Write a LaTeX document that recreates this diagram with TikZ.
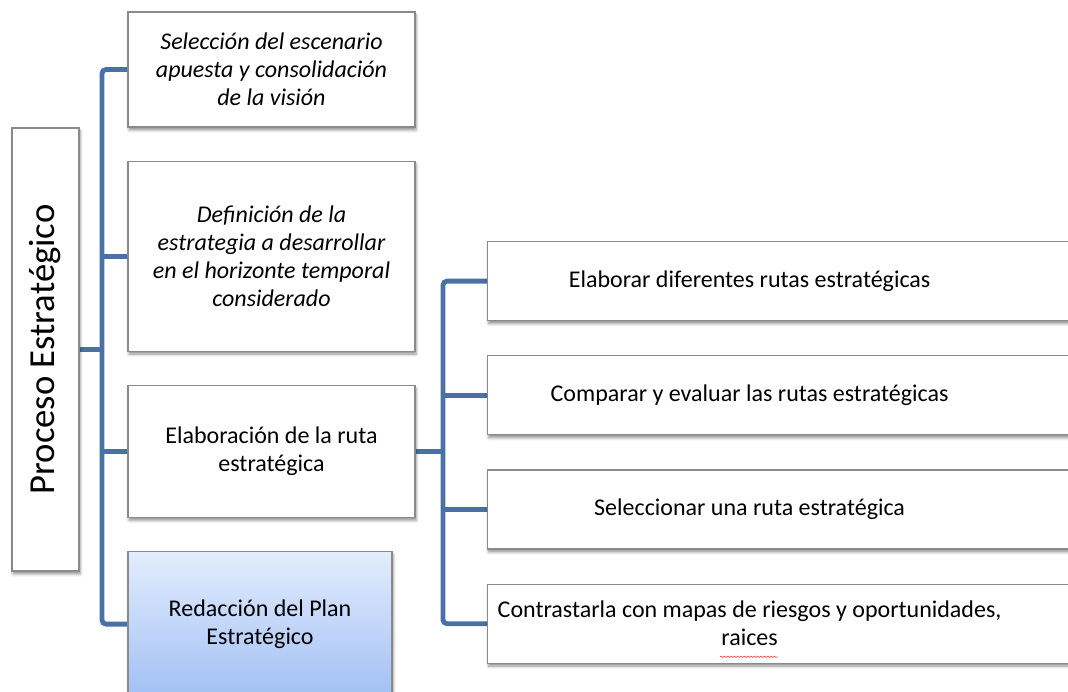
\documentclass[tikz,border=0pt]{standalone}
\usepackage{fontspec}
\setmainfont{Carlito}
\usetikzlibrary{backgrounds,decorations.pathmorphing,positioning,shadows.blur}
\definecolor{ramablue}{HTML}{4A70A8}
\definecolor{bordegris}{HTML}{8A8A8A}
\definecolor{planclaro}{HTML}{E3EDFD}
\definecolor{planoscuro}{HTML}{A2C0F4}
\newcommand{\rutatexto}[1]{\parbox{393pt}{\centering #1}\hspace{52pt}}
\tikzset{
  fasebox/.style={
    draw=bordegris,
    fill=white,
    line width=0.9pt,
    align=center,
    font=\fontsize{18}{21}\selectfont,
    minimum width=215.25pt,
    inner sep=4pt,
    blur shadow={shadow xshift=0.8pt, shadow yshift=-2.2pt,
      shadow blur radius=2.2pt, shadow opacity=45}
  },
  italbox/.style={
    fasebox,
    font=\fontsize{18}{21}\selectfont\itshape
  },
  planbox/.style={
    fasebox,
    minimum width=198pt,
    top color=planclaro,
    bottom color=planoscuro
  },
  raizbox/.style={
    fasebox,
    minimum width=50.25pt,
    minimum height=332.25pt,
    inner sep=0pt,
    font=\fontsize{27.5}{30}\selectfont
  },
  rutabox/.style={
    fasebox,
    minimum width=0pt,
    minimum height=59.25pt,
    inner xsep=0pt
  },
  rama/.style={
    draw=ramablue,
    line width=3.6pt,
    rounded corners=3pt
  },
  ondaroja/.style={
    draw=red!80,
    line width=0.4pt,
    decorate,
    decoration={snake, amplitude=0.5pt, segment length=2.5pt}
  }
}

\begin{document}
\begin{tikzpicture}[x=0.75pt, y=-0.75pt, node distance=24.75pt]
    \useasboundingbox (0,0) rectangle (1068,692);

    \node[raizbox] (proceso) at (45.5,349.5) {\rotatebox{90}{Proceso Estratégico}};

    \node[italbox, minimum height=86.25pt] (escenario) at (271.5,69.5) {
        Selección del escenario\\
        apuesta y consolidación\\
        de la visión
    };
    \node[italbox, minimum height=142.5pt, below=of escenario] (estrategia) {
        Definición de la\\
        estrategia a desarrollar\\
        en el horizonte temporal\\
        considerado
    };
    \node[fasebox, minimum height=99pt, below=of estrategia] (ruta) {
        Elaboración de la ruta\\
        estratégica
    };
    \node[planbox, minimum height=108.75pt, below=of ruta.south west, anchor=north west] (redaccion) {
        Redacción del Plan\\
        Estratégico
    };

    \node[rutabox, anchor=north west] (rutaA) at (487,241) {
        \rutatexto{Elaborar diferentes rutas estratégicas}
    };
    \node[rutabox, below=25.5pt of rutaA] (rutaB) {
        \rutatexto{Comparar y evaluar las rutas estratégicas}
    };
    \node[rutabox, below=25.5pt of rutaB] (rutaC) {
        \rutatexto{Seleccionar una ruta estratégica}
    };
    \node[rutabox, below=25.5pt of rutaC] (rutaD) {
        \rutatexto{Contrastarla con mapas de riesgos y oportunidades,\\ raices}
    };

    % subrayado del corrector
    \draw[ondaroja] ([shift={(233,-7)}]rutaD.south west) -- ([shift={(291,-7)}]rutaD.south west);

    \coordinate (tronco) at (102,349.5);
    \coordinate (subtronco) at (443,449);

    \begin{scope}[on background layer]
        \draw[rama] (proceso.east) -- (tronco);
        \draw[rama] (escenario.west) -| (tronco |- redaccion.west) -- (redaccion.west);
        \draw[rama] (estrategia.west) -- (estrategia.west -| tronco);
        \draw[rama] (ruta.west) -- (ruta.west -| tronco);
        \draw[rama] (ruta.east) -- (ruta.east -| subtronco);
        \draw[rama] (rutaA.west) -| (subtronco |- rutaD.west) -- (rutaD.west);
        \draw[rama] (rutaB.west) -- (rutaB.west -| subtronco);
        \draw[rama] (rutaC.west) -- (rutaC.west -| subtronco);
    \end{scope}
\end{tikzpicture}
\end{document}
